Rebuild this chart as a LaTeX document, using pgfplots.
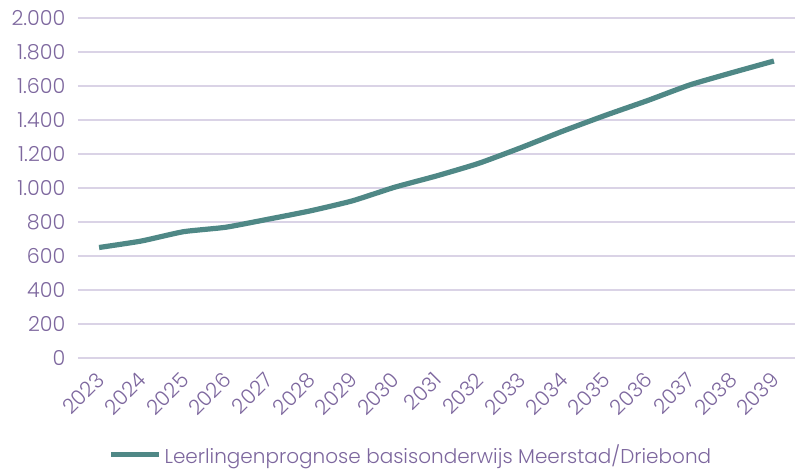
\documentclass[border=0pt]{standalone}
\usepackage{pgfplots}
\pgfplotsset{compat=1.18}
\usepackage{fontspec}
\setmainfont{Poppins}[UprightFont=*-Light]
\definecolor{txt}{HTML}{7D679E}
\definecolor{gridc}{HTML}{DAD3E6}
\definecolor{lineteal}{HTML}{4F8886}
\begin{document}
\begin{tikzpicture}
\begin{axis}[
  at={(0,0)}, anchor=south west,
  scale only axis, width=537.75pt, height=255pt,
  xmin=-0.5, xmax=16.5, ymin=0, ymax=2000,
  xtick={0,...,16},
  xticklabels={2023,2024,2025,2026,2027,2028,2029,2030,2031,2032,2033,2034,2035,2036,2037,2038,2039},
  ytick={0,200,...,2000},
  axis line style={draw=none},
  major tick length=0pt,
  ymajorgrids, xmajorgrids=false,
  y grid style={draw=gridc, line width=1.3pt},
  /pgf/number format/assume math mode=true,
  /pgf/number format/1000 sep={.},
  yticklabel style={font=\fontsize{15.5}{17}\selectfont, text=txt, xshift=-6pt},
  xticklabel style={font=\fontsize{15.5}{17}\selectfont, text=txt, rotate=45, anchor=north east, xshift=-5.5pt, yshift=-1.2pt},
  legend style={draw=none, fill=none, at={(0.465,-0.285)}, anchor=center,
    font=\fontsize{15}{17}\selectfont, text=txt},
  legend image code/.code={\draw[#1, line width=3.75pt] (0pt,0pt) -- (36pt,0pt);},
]
\addplot[lineteal, line width=3.9pt, smooth, tension=0.3] coordinates {
(0,650) (1,688) (2,743) (3,769) (4,816) (5,865) (6,924) (7,1004)
(8,1071) (9,1145) (10,1237) (11,1335) (12,1427) (13,1514) (14,1606) (15,1678) (16,1747)
};
\addlegendentry{Leerlingenprognose basisonderwijs Meerstad/Driebond}
\end{axis}
\pgfresetboundingbox
\path (-58.5pt,-84.75pt) rectangle (537.75pt,268.5pt);
\end{tikzpicture}
\end{document}
